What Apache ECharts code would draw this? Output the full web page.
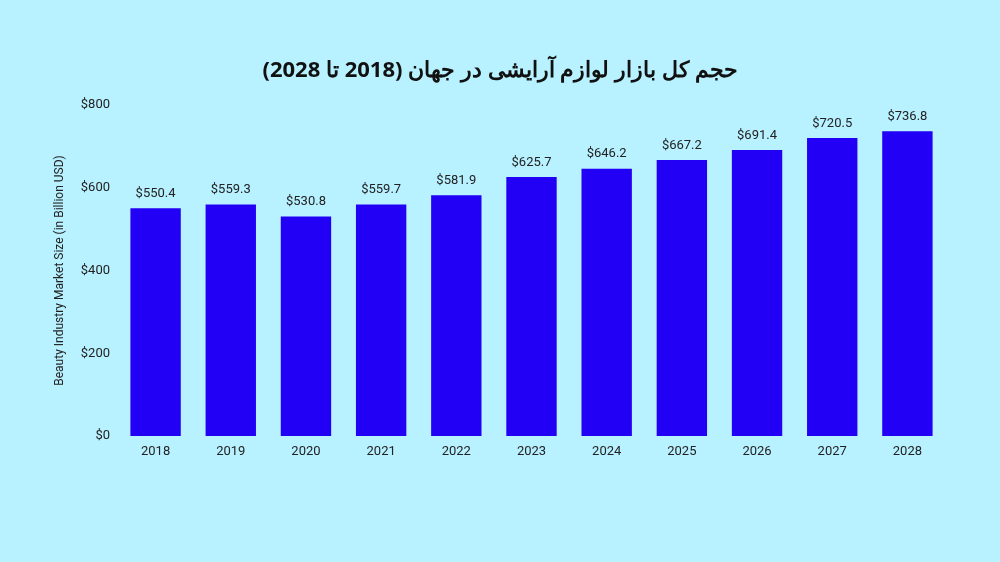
<!DOCTYPE html>
<html><head><meta charset="utf-8">
<script src="https://cdn.jsdelivr.net/npm/echarts@6/dist/echarts.min.js"></script>
<style>html,body{margin:0;background:#b8f1ff}#c{width:1000px;height:562px}</style>
</head><body><div id="c"></div>
<script>
const categories=['2018','2019','2020','2021','2022','2023','2024','2025','2026','2027','2028'];
const values=[550.4,559.3,530.8,559.7,581.9,625.7,646.2,667.2,691.4,720.5,736.8];
const yTicks=[0,200,400,600,800];
const chart=echarts.init(document.getElementById('c'));
chart.setOption({
  backgroundColor:'#b8f1ff',
  title:{text:'حجم کل بازار لوازم آرایشی در جهان (2018 تا 2028)',left:'center',top:55,
    textStyle:{fontFamily:'Noto Sans',fontSize:22,fontWeight:'bold',color:'#111'}},
  grid:{left:118,right:55,top:105,bottom:126},
  xAxis:{type:'category',data:categories,axisLine:{show:false},axisTick:{show:false},
    axisLabel:{color:'#222',fontSize:13,fontFamily:'Roboto',margin:9}},
  yAxis:{type:'value',min:0,max:800,interval:200,splitLine:{show:false},
    name:'Beauty Industry Market Size (in Billion USD)',nameLocation:'middle',nameGap:52,
    nameTextStyle:{fontSize:12,color:'#222',fontFamily:'Roboto'},
    axisLabel:{color:'#222',fontSize:13,fontFamily:'Roboto',formatter:v=>'$'+v}},
  series:[{type:'bar',data:values,barWidth:'67%',itemStyle:{color:'#2200f5'},
    label:{show:true,position:'top',distance:8,color:'#222',fontSize:13,fontFamily:'Roboto',
      formatter:p=>'$'+p.value.toFixed(1)}}]
});
</script></body></html>
